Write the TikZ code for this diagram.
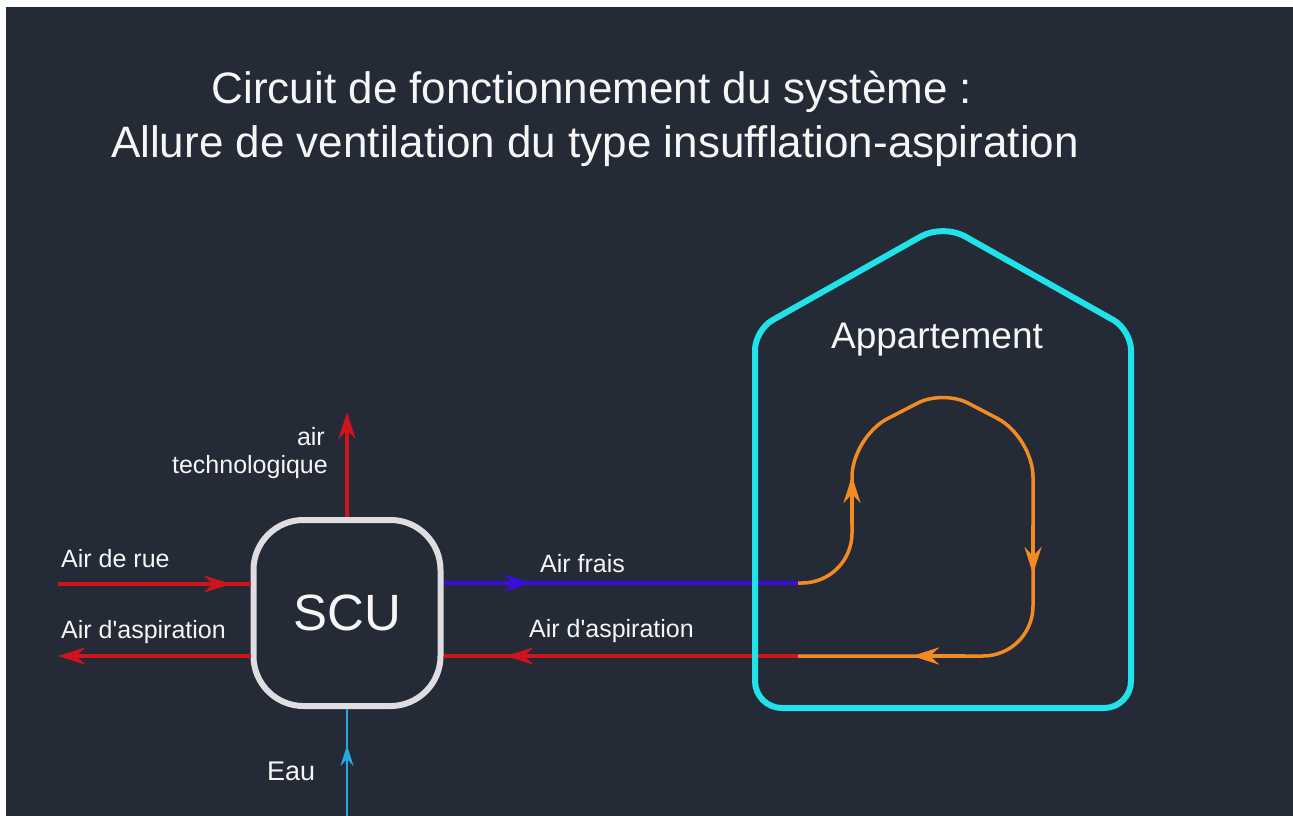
\documentclass[tikz,border=0pt]{standalone}
\usepackage{fontspec}
\setmainfont{Liberation Sans}
\usetikzlibrary{arrows.meta}
\definecolor{bgc}{RGB}{36,42,54}
\definecolor{redc}{RGB}{208,20,28}
\definecolor{bluec}{RGB}{58,12,222}
\definecolor{cyanc}{RGB}{32,226,232}
\definecolor{orangec}{RGB}{242,140,34}
\definecolor{eauc}{RGB}{44,166,222}
\definecolor{scuc}{RGB}{222,222,226}
\definecolor{txtc}{RGB}{246,246,246}
\begin{document}
\begin{tikzpicture}[x=1pt,y=-1pt,
  txt/.style={text=txtc, inner sep=0pt},
  lbl/.style={txt, font=\fontsize{25}{30}\selectfont},
  redl/.style={draw=redc, line width=4pt},
  bluel/.style={draw=bluec, line width=4pt},
  orl/.style={draw=orangec, line width=3.5pt},
  eaul/.style={draw=eauc, line width=2.5pt},
  arr/.style={-{Stealth[length=27pt,width=17pt,inset=9pt]}},
  earr/.style={-{Stealth[length=21pt,width=13pt,inset=7pt]}},
  scubox/.style={draw=scuc, line width=6pt, rectangle, rounded corners=50pt,
    minimum width=187pt, minimum height=186pt, txt, font=\fontsize{51}{60}\selectfont},
  housel/.style={draw=cyanc, line width=6pt, line join=round}
]
\useasboundingbox (0,0) rectangle (1293,816);
\fill[white] (0,0) rectangle (1293,816);
\fill[bgc] (6,7) rectangle (1293,816);

% title
\node[txt, font=\fontsize{44}{54}\selectfont, anchor=base] (title1) at (592,103) {Circuit de fonctionnement du système :};
\node[txt, font=\fontsize{44}{54}\selectfont, anchor=base] (title2) at (595,157) {Allure de ventilation du type insufflation-aspiration};

% SCU
\node[scubox] (scu) at (347,613) {SCU};

% coordinates
\coordinate (rueS) at (58,584);
\coordinate (rueT) at (231,584);
\coordinate (aspL) at (58,656);
\coordinate (techT) at (347,412);
\coordinate (eauS) at (347,816);
\coordinate (eauT) at (347,745);
\coordinate (frE) at (798,583);
\coordinate (frT) at (531,583);
\coordinate (aspE) at (798,656);
\coordinate (aspT) at (506,656);

% connectors
\draw[redl] (rueS) -- (scu.west |- rueS);
\draw[redl, arr] (rueS) -- (rueT);
\draw[redl, arr] (scu.west |- aspL) -- (aspL);
\draw[redl, arr] (scu.north) -- (techT);
\draw[eaul] (eauS) -- (scu.south);
\draw[eaul, earr] (eauS) -- (eauT);
\draw[bluel] (scu.east |- frE) -- (frE);
\draw[bluel, arr] (scu.east |- frE) -- (frT);
\draw[redl] (aspE) -- (scu.east |- aspE);
\draw[redl, arr] (aspE) -- (aspT);

% house
\draw[housel] (943,708) [rounded corners=27pt] -- (755,708) [rounded corners=20pt] -- (755,330) [rounded corners=25pt] -- (943,224) [rounded corners=20pt] -- (1131,330) [rounded corners=27pt] -- (1131,708) -- cycle;
\node[txt, font=\fontsize{37}{44}\selectfont, anchor=base] (lapp) at (937,348) {Appartement};

% orange loop
\coordinate (oUpA) at (852,525);
\coordinate (oUpT) at (852,476);
\coordinate (oDnA) at (1033,525);
\coordinate (oDnT) at (1033,574);
\coordinate (oLfA) at (965,656);
\coordinate (oLfT) at (912,656);
\draw[orl] (frE) [rounded corners=50pt] -- (852,583) [rounded corners=40pt] -- (852,437) [rounded corners=28pt] -- (943,390) [rounded corners=40pt] -- (1033,437) [rounded corners=50pt] -- (1033,656) -- (aspE);
\draw[orl, arr] (oUpA) -- (oUpT);
\draw[orl, arr] (oDnA) -- (oDnT);
\draw[orl, arr] (oLfA) -- (oLfT);

% labels
\node[lbl, anchor=base west] (lrue) at (61,567) {Air de rue};
\node[lbl, anchor=base west] (lasp1) at (61,638) {Air d\textquotesingle aspiration};
\node[lbl, anchor=base west] (lfrais) at (540,572) {Air frais};
\node[lbl, anchor=base west] (lasp2) at (529,637) {Air d\textquotesingle aspiration};
\node[lbl, anchor=base east] (lair) at (325,445) {air};
\node[lbl, anchor=base east] (ltech) at (328,473) {technologique};
\node[txt, font=\fontsize{27}{32}\selectfont, anchor=base west] (leau) at (267,780) {Eau};
\end{tikzpicture}
\end{document}
